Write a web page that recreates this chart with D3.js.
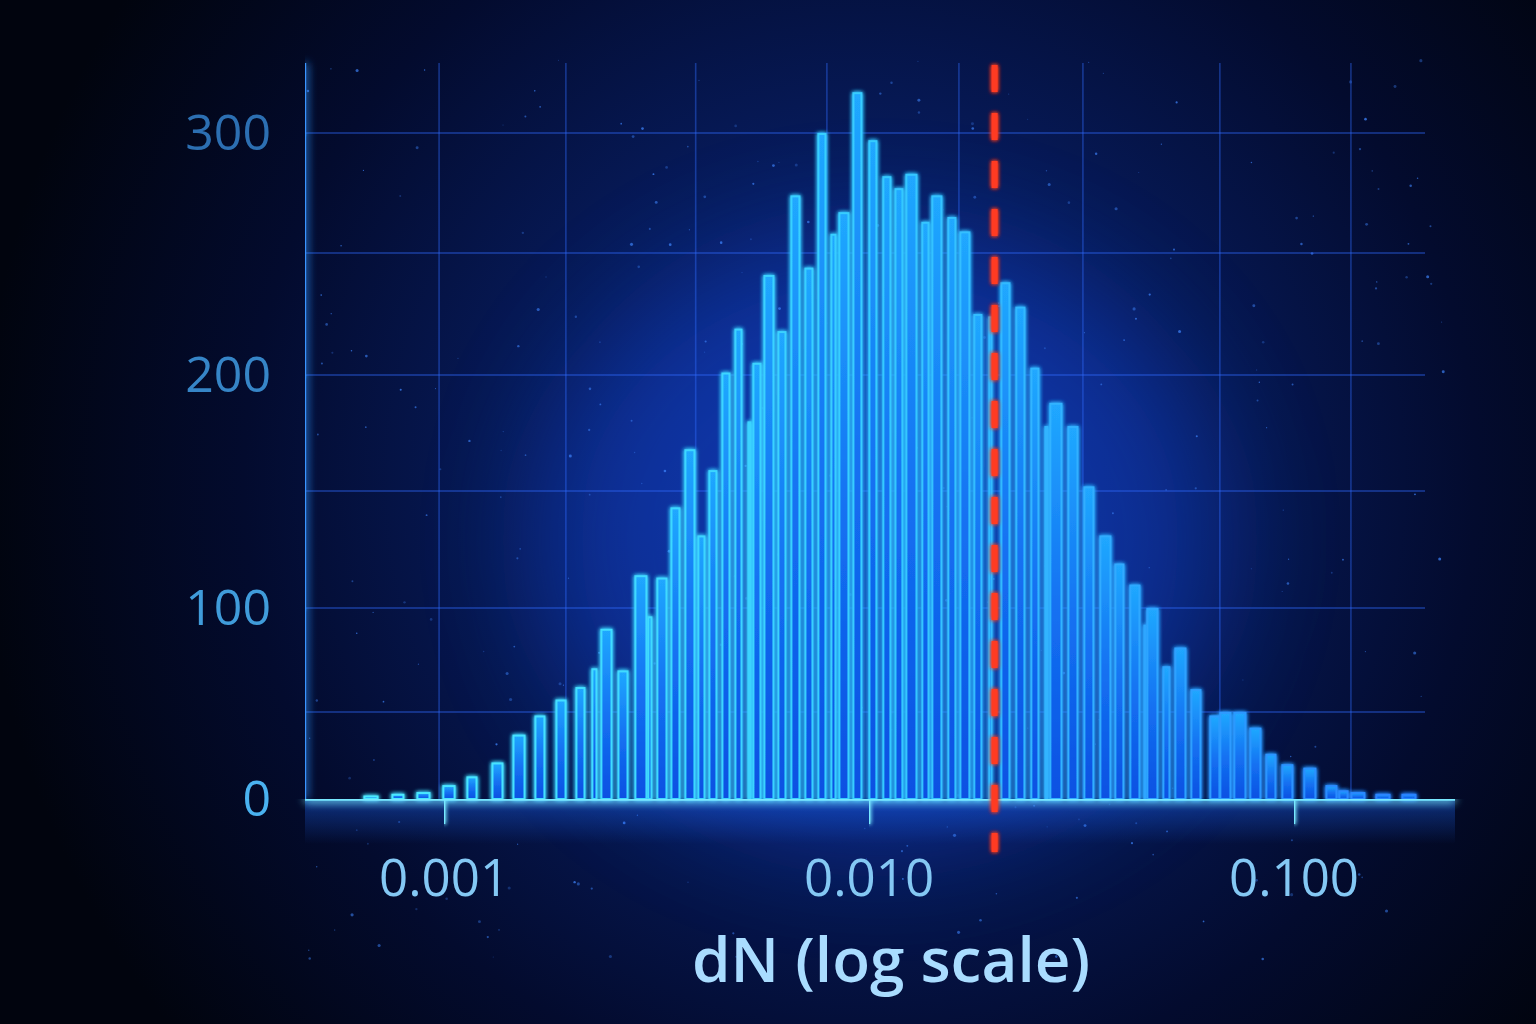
<!DOCTYPE html>
<html>
<head>
<meta charset="utf-8">
<script src="https://cdn.jsdelivr.net/npm/d3@7/dist/d3.min.js"></script>
<style>
  html, body { margin: 0; padding: 0; background: #020718; }
  svg { display: block; }
</style>
</head>
<body>
<svg id="chart" width="1536" height="1024"></svg>
<script>
// ---------------- DATA ----------------
// histogram bins of dN (lower / upper edges) and counts
const binLo = [0.000646,0.000752,0.000861,0.000991,0.001129,0.001293,0.001449,0.001632,0.001829,0.002038,
  0.002222,0.002333,0.002559,0.002805,0.003010,0.003160,0.003410,0.003678,0.003946,0.004189,
  0.004495,0.004823,0.005175,0.005317,0.005644,0.006088,0.006532,0.007047,0.007561,0.008113,
  0.008472,0.009140,0.009968,0.01075,0.01148,0.01218,0.01328,0.01402,0.01529,0.01632,
  0.01760,0.01909,0.02038,0.02210,0.02397,0.02586,0.02657,0.02930,0.03195,0.03484,
  0.03779,0.04099,0.04422,0.04495,0.04902,0.05231,0.05705,0.06323,0.06675,0.07201,
  0.07853,0.08565,0.09340,0.1052,0.1186,0.1272,0.1358,0.1554,0.1790];
const binHi = [0.000705,0.000811,0.000934,0.001070,0.001205,0.001387,0.001563,0.001741,0.001952,0.002163,
  0.002308,0.002504,0.002731,0.003026,0.003109,0.003373,0.003619,0.003925,0.004144,0.004422,
  0.004745,0.005064,0.005317,0.005613,0.006022,0.006427,0.006933,0.007439,0.007982,0.008427,
  0.009041,0.009698,0.01052,0.01135,0.01211,0.01307,0.01395,0.01496,0.01614,0.01741,
  0.01858,0.01962,0.02163,0.02346,0.02531,0.02657,0.02867,0.03127,0.03409,0.03738,
  0.04011,0.04375,0.04495,0.04823,0.05147,0.05613,0.06088,0.06748,0.07162,0.07769,
  0.08427,0.09140,0.1002,0.1135,0.1272,0.1351,0.1480,0.1696,0.1952];
const counts = [2,3,4,8,13,21,37,48,56,62,
  71,90,70,114,96,113,143,168,131,159,
  201,219,180,205,241,218,274,244,300,258,
  267,317,297,282,277,283,263,274,265,259,
  225,224,238,228,203,178,188,178,152,131,
  119,110,92,100,72,81,61,48,50,50,
  41,26,20,18,8,5,4,3,3];
const markerValue = 0.0198;                 // dashed red reference line
const xTickValues = [0.001, 0.01, 0.1];
const yTickValues = [0, 100, 200, 300];
const yGridValues = [50, 100, 150, 200, 250, 300];
const xGridValues = [0.000976, 0.00194, 0.00392, 0.00798, 0.01632, 0.03195, 0.0671, 0.1365];
const xDomain = [0.000472, 0.2399];
const yBreaks = [0, 50, 100, 150, 200, 250, 300];
const xLabel = "dN (log scale)";

// ---------------- LAYOUT ----------------
const W = 1536, H = 1024;
const pLeft = 305, pRight = 1455, pTop = 63;
const svg = d3.select("#chart");
const defs = svg.append("defs");

const x = d3.scaleLog().domain(xDomain).range([pLeft, pRight]);
const y = d3.scaleLinear().domain(yBreaks).range([799, 712, 608, 491, 375, 253, 133]);

// background
const bg = defs.append("radialGradient").attr("id", "bg")
  .attr("gradientUnits", "userSpaceOnUse").attr("cx", 860).attr("cy", 480).attr("r", 880);
bg.append("stop").attr("offset", "0").attr("stop-color", "#0b2a88");
bg.append("stop").attr("offset", "0.35").attr("stop-color", "#071c5e");
bg.append("stop").attr("offset", "0.7").attr("stop-color", "#030b2e");
bg.append("stop").attr("offset", "1").attr("stop-color", "#01040e");
svg.append("rect").attr("width", W).attr("height", H).attr("fill", "url(#bg)");

// filters (user-space regions so that straight lines keep their glow)
function glow(id, sd) {
  const f = defs.append("filter").attr("id", id)
    .attr("filterUnits", "userSpaceOnUse")
    .attr("x", 0).attr("y", 0).attr("width", W).attr("height", H);
  f.append("feGaussianBlur").attr("in", "SourceGraphic").attr("stdDeviation", sd).attr("result", "b");
  const m = f.append("feMerge");
  m.append("feMergeNode").attr("in", "b");
  m.append("feMergeNode").attr("in", "b");
  m.append("feMergeNode").attr("in", "SourceGraphic");
}
glow("glowS", 2);
glow("glowM", 5);
const soft = defs.append("filter").attr("id", "soft")
  .attr("filterUnits", "userSpaceOnUse")
  .attr("x", 0).attr("y", 0).attr("width", W).attr("height", H);
soft.append("feGaussianBlur").attr("stdDeviation", 60);

// soft halo behind histogram
svg.append("ellipse").attr("cx", 880).attr("cy", 540).attr("rx", 340).attr("ry", 300)
  .attr("fill", "#1450f0").attr("opacity", 0.38).attr("filter", "url(#soft)");

// stars (decoration, seeded)
const rnd = d3.randomLcg(7);
const stars = svg.append("g");
for (let i = 0; i < 320; i++) {
  const sx = 300 + rnd() * 1150, sy = 60 + rnd() * 900;
  stars.append("circle").attr("cx", sx).attr("cy", sy)
    .attr("r", 0.5 + rnd() * 1.1)
    .attr("fill", "#3f86ff").attr("opacity", 0.25 + rnd() * 0.5);
}

// grid
const grid = svg.append("g");
grid.selectAll("line.h").data(yGridValues).join("line").attr("class", "h")
  .attr("x1", pLeft).attr("x2", 1425)
  .attr("y1", d => y(d)).attr("y2", d => y(d))
  .attr("stroke", "#2f6cff").attr("stroke-opacity", 0.5).attr("stroke-width", 1.6);
grid.selectAll("line.v").data(xGridValues).join("line").attr("class", "v")
  .attr("x1", d => x(d)).attr("x2", d => x(d))
  .attr("y1", pTop).attr("y2", y(0))
  .attr("stroke", "#2f6cff").attr("stroke-opacity", 0.42).attr("stroke-width", 1.6);

// bars
const bars = binLo.map((lo, i) => ({ lo, hi: binHi[i], n: counts[i] }));
const barGrad = defs.append("linearGradient").attr("id", "barGrad")
  .attr("x1", 0).attr("y1", 0).attr("x2", 0).attr("y2", 1);
barGrad.append("stop").attr("offset", "0").attr("stop-color", "#20a8ff");
barGrad.append("stop").attr("offset", "0.5").attr("stop-color", "#1472f2");
barGrad.append("stop").attr("offset", "1").attr("stop-color", "#0a50e2");
const edge = d3.scaleLinear().domain([x(0.001), x(0.01), x(0.12)])
  .range(["#48e6ff", "#36ccff", "#2a8cff"]);

const gBars = svg.append("g").attr("filter", "url(#glowS)");
gBars.selectAll("rect").data(bars).join("rect")
  .attr("x", d => x(d.lo) + 1.5)
  .attr("y", d => y(d.n) + 1)
  .attr("width", d => Math.max(1, x(d.hi) - x(d.lo) - 3))
  .attr("height", d => Math.max(0, y(0) - y(d.n) - 1))
  .attr("fill", "url(#barGrad)")
  .attr("stroke", d => edge(x(d.lo)))
  .attr("stroke-width", 2);

// glow band under x axis
const band = defs.append("linearGradient").attr("id", "band").attr("x1", 0).attr("y1", 0).attr("x2", 0).attr("y2", 1);
band.append("stop").attr("offset", "0").attr("stop-color", "#1e6bff").attr("stop-opacity", 0.4);
band.append("stop").attr("offset", "1").attr("stop-color", "#1e6bff").attr("stop-opacity", 0);
svg.append("rect").attr("x", pLeft).attr("y", y(0)).attr("width", pRight - pLeft).attr("height", 45)
  .attr("fill", "url(#band)");

// y axis
const yAxis = svg.append("g").attr("transform", `translate(${pLeft},0)`)
  .call(d3.axisLeft(y).tickValues(yTickValues).tickSize(8).tickPadding(26).tickFormat(d3.format("d")));
yAxis.select(".domain").attr("d", `M0,${pTop}V${y(0)}`)
  .attr("stroke", "#3a94ff").attr("stroke-width", 2.4).attr("fill", "none").attr("filter", "url(#glowM)");
yAxis.selectAll(".tick line").attr("stroke", "#3a94ff").attr("stroke-width", 2).attr("filter", "url(#glowS)");
const yCol = d3.scaleLinear().domain([0, 300]).range(["#4ab2f0", "#2c6fb2"]);
yAxis.selectAll(".tick text")
  .attr("font-family", "'Open Sans', sans-serif").attr("font-size", 50)
  .attr("fill", d => yCol(d));

// x axis
const xAxis = svg.append("g").attr("transform", `translate(0,${y(0)})`)
  .call(d3.axisBottom(x).tickValues(xTickValues).tickSize(25).tickPadding(36).tickFormat(d3.format(".3f")));
xAxis.select(".domain").attr("d", `M${pLeft},0H${pRight}`)
  .attr("stroke", "#78e8ff").attr("stroke-width", 3.5).attr("fill", "none").attr("filter", "url(#glowM)");
xAxis.selectAll(".tick line").attr("stroke", "#78e8ff").attr("stroke-width", 2.5).attr("filter", "url(#glowS)");
xAxis.selectAll(".tick text")
  .attr("font-family", "'Open Sans', sans-serif").attr("font-size", 51)
  .attr("fill", "#84c8f4");

// dashed marker
svg.append("line")
  .attr("x1", x(markerValue)).attr("x2", x(markerValue))
  .attr("y1", pTop + 2).attr("y2", 852)
  .attr("stroke", "#ff3b22").attr("stroke-width", 6)
  .attr("stroke-dasharray", "27 21")
  .attr("filter", "url(#glowS)");

// x label
svg.append("text")
  .attr("x", 891).attr("y", 982)
  .attr("text-anchor", "middle")
  .attr("font-family", "'Open Sans', sans-serif").attr("font-weight", 600)
  .attr("font-size", 62).attr("fill", "#a9dcff")
  .text(xLabel);
</script>
</body>
</html>
